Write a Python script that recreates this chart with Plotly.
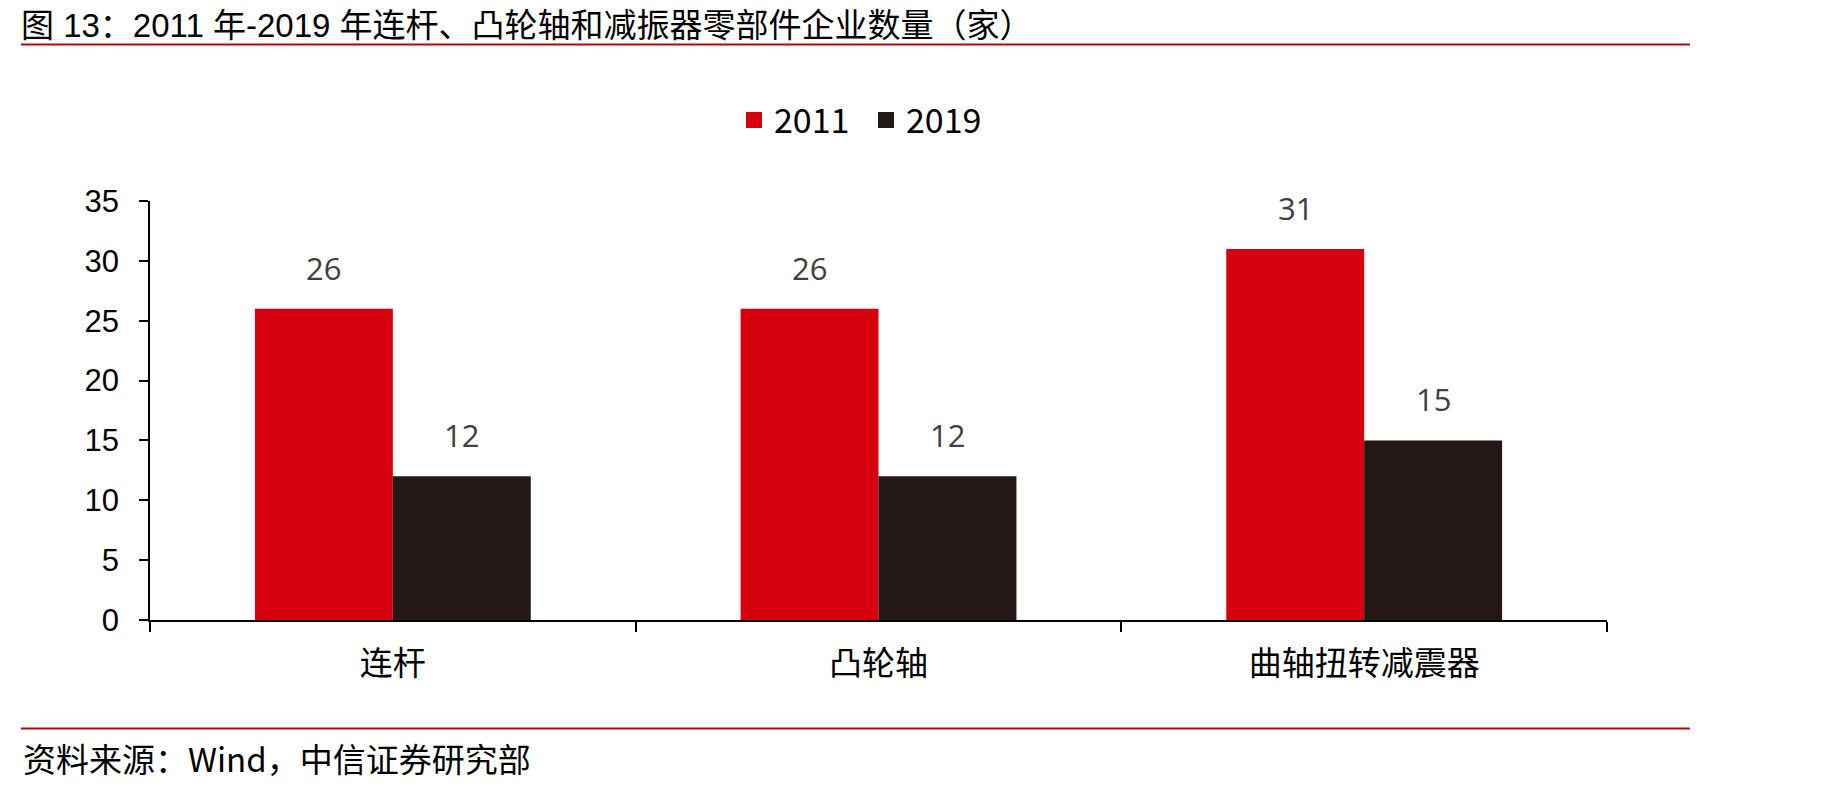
import plotly.graph_objects as go

categories = ["连杆", "凸轮轴", "曲轴扭转减震器"]
series_names = ["2011", "2019"]
values_2011 = [26, 26, 31]
values_2019 = [12, 12, 15]
y_ticks = [0, 5, 10, 15, 20, 25, 30, 35]

colors = ["#D7000F", "#231815"]
W, H = 1830, 789
L, R = 150, 1607
T, B = 200.7, 620.3
pw, ph = R - L, B - T

def px_x(x):
    return (x - L) / pw

def px_y(y):
    return (B - y) / ph

fig = go.Figure()
for name, vals, c in zip(series_names, [values_2011, values_2019], colors):
    fig.add_trace(go.Bar(x=categories, y=vals, name=name, marker=dict(color=c, line=dict(width=0)),
                         showlegend=False))
    fig.add_trace(go.Scatter(x=[None], y=[None], mode="markers", name=name,
                             marker=dict(symbol="square", size=20, color=c)))

bar_px = pw / 3 * (1 - 0.432) / 2
annotations = []
for vals, sh in [(values_2011, -bar_px / 2), (values_2019, bar_px / 2)]:
    for cat, v in zip(categories, vals):
        annotations.append(dict(x=cat, y=v, xref="x", yref="y", text=str(v), showarrow=False,
                                xshift=sh, yshift=41, yanchor="middle",
                                font=dict(family="Open Sans", size=31, color="#404040")))

annotations.append(dict(xref="paper", yref="paper", x=px_x(21), y=px_y(758), xanchor="left", yanchor="middle",
                        text="资料来源：Wind，中信证券研究部", showarrow=False,
                        font=dict(family="Noto Sans CJK SC", size=33, color="#000000")))

shapes = [
    dict(type="line", xref="paper", yref="paper", x0=px_x(21), x1=px_x(1690), y0=px_y(44), y1=px_y(44),
         line=dict(color="#C00000", width=2)),
    dict(type="line", xref="paper", yref="paper", x0=px_x(21), x1=px_x(1690), y0=px_y(729), y1=px_y(729),
         line=dict(color="#C00000", width=2)),
]

fig.update_layout(
    width=W, height=H,
    margin=dict(l=L, r=W - R, t=T, b=H - B, pad=0),
    paper_bgcolor="white", plot_bgcolor="white",
    barmode="group", bargap=0.432, bargroupgap=0,
    title=dict(text="图 13：2011 年-2019 年连杆、凸轮轴和减振器零部件企业数量（家）",
               x=21 / W, xanchor="left", y=1 - 25 / H, yanchor="middle",
               font=dict(family="Liberation Sans, Noto Sans CJK SC", size=33, color="#000000")),
    legend=dict(orientation="h", x=px_x(866), xanchor="center", y=px_y(120), yanchor="middle",
                font=dict(family="Noto Sans CJK SC", size=34, color="#000000"),
                itemwidth=30, entrywidth=87, tracegroupgap=0, bgcolor="rgba(0,0,0,0)"),
    xaxis=dict(type="category", showline=True, linecolor="#000000", linewidth=1.5,
               ticks="outside", tickson="boundaries", ticklen=10, tickcolor="#000000", tickwidth=1.5,
               showgrid=False, zeroline=False, ticklabelstandoff=14,
               tickfont=dict(family="Noto Sans CJK SC", size=33, color="#000000")),
    yaxis=dict(range=[0, 35], tickvals=y_ticks, showline=True, linecolor="#000000", linewidth=1.5,
               ticks="outside", ticklen=9, tickcolor="#000000", tickwidth=1.5,
               showgrid=False, zeroline=False, ticklabelstandoff=14,
               tickfont=dict(family="Liberation Sans", size=31, color="#000000")),
    annotations=annotations,
    shapes=shapes,
)

fig.write_html("out.html")
